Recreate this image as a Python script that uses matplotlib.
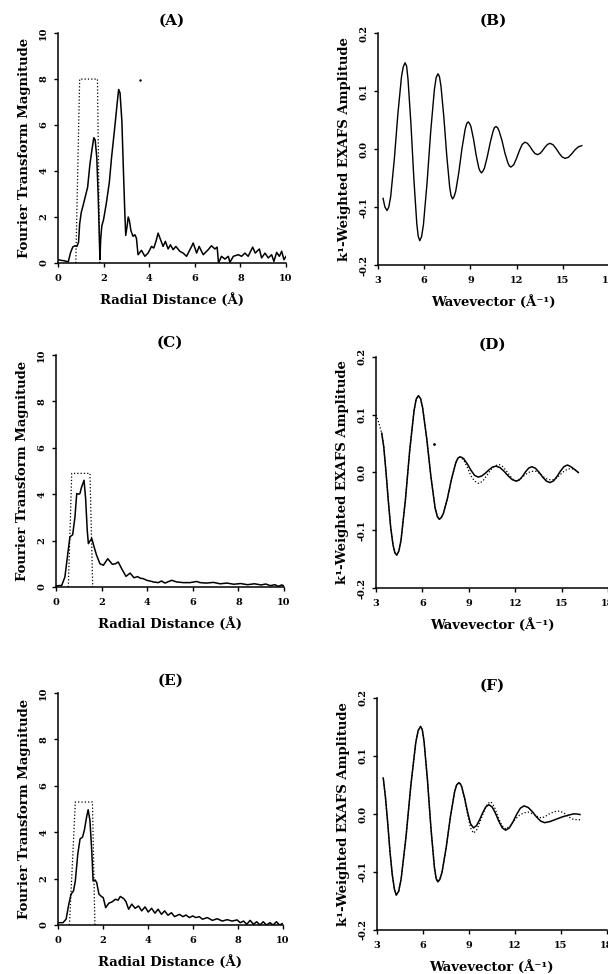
import matplotlib
matplotlib.use("Agg")
import matplotlib.pyplot as plt

plt.rcParams['font.family'] = ['DejaVu Serif']
plt.rcParams['font.weight'] = 'bold'
plt.rcParams['axes.unicode_minus'] = False

# ---- Fourier transform magnitudes (radial distance in Angstrom) ----
r_a = [0.0, 0.1, 0.25, 0.45, 0.55, 0.65, 0.75, 0.83, 0.9, 0.95, 1.02, 1.1, 1.2, 1.3, 1.4, 1.5, 1.57, 1.63,
       1.7, 1.76, 1.8, 1.84, 1.87, 1.92, 2.0, 2.12, 2.25, 2.35, 2.5, 2.6, 2.66, 2.72, 2.8, 2.87, 2.93, 2.97,
       3.03, 3.08, 3.13, 3.2, 3.29, 3.37, 3.44, 3.51, 3.66, 3.81, 3.95, 4.1, 4.2, 4.3, 4.39, 4.5, 4.61, 4.71,
       4.83, 4.93, 5.05, 5.17, 5.34, 5.49, 5.64, 5.75, 5.86, 5.93, 6.08, 6.19, 6.37, 6.59, 6.73, 6.88, 6.98,
       7.04, 7.17, 7.32, 7.47, 7.54, 7.69, 7.91, 8.05, 8.2, 8.34, 8.54, 8.65, 8.83, 8.93, 9.08, 9.22, 9.37,
       9.47, 9.59, 9.71, 9.81, 9.91, 10.0]
ft_a = [0.15, 0.12, 0.1, 0.05, 0.45, 0.7, 0.75, 0.72, 0.9, 1.7, 2.2, 2.5, 2.9, 3.3, 4.3, 5.0, 5.45, 5.35,
        4.6, 3.0, 1.6, 0.15, 1.0, 1.6, 1.9, 2.6, 3.5, 4.6, 6.0, 7.0, 7.55, 7.4, 6.2, 4.0, 2.2, 1.2,
        1.6, 2.0, 1.85, 1.4, 1.16, 1.23, 1.08, 0.36, 0.55, 0.29, 0.43, 0.72, 0.65, 0.95, 1.3, 1.01, 0.72, 0.94,
        0.61, 0.79, 0.58, 0.72, 0.51, 0.43, 0.29, 0.51, 0.72, 0.87, 0.43, 0.72, 0.36, 0.58, 0.75, 0.61, 0.69,
        0.0, 0.29, 0.17, 0.29, 0.03, 0.29, 0.36, 0.29, 0.43, 0.29, 0.69, 0.43, 0.61, 0.22, 0.43, 0.22, 0.36,
        0.07, 0.46, 0.29, 0.51, 0.14, 0.29]
win_a_x = [0.78, 0.95, 1.73, 1.83]
win_a_y = [0, 8.0, 8.0, 0]

r_c = [0.0, 0.25, 0.39, 0.5, 0.61, 0.66, 0.73, 0.83, 0.91, 1.0, 1.05, 1.12, 1.23, 1.3, 1.37, 1.42, 1.5, 1.57,
       1.67, 1.78, 1.93, 2.08, 2.27, 2.47, 2.6, 2.73, 2.88, 3.07, 3.25, 3.42, 3.58, 3.7, 3.83, 3.98, 4.12,
       4.27, 4.49, 4.63, 4.78, 5.07, 5.29, 5.58, 5.88, 6.17, 6.32, 6.6, 6.9, 7.2, 7.5, 7.8, 8.1, 8.4, 8.7,
       9.0, 9.2, 9.4, 9.6, 9.75, 9.9, 10.0]
ft_c = [0.05, 0.07, 0.43, 1.3, 2.16, 2.2, 2.25, 3.0, 4.03, 4.0, 4.03, 4.3, 4.6, 3.8, 2.45, 1.87, 2.0, 2.09,
        1.73, 1.37, 1.0, 0.94, 1.22, 0.98, 1.0, 1.08, 0.79, 0.46, 0.6, 0.4, 0.45, 0.38, 0.36, 0.29, 0.26,
        0.22, 0.19, 0.26, 0.17, 0.29, 0.22, 0.19, 0.19, 0.24, 0.19, 0.17, 0.2, 0.14, 0.17, 0.12, 0.15, 0.1, 0.14,
        0.09, 0.13, 0.06, 0.1, 0.03, 0.09, 0.05]
win_c_x = [0.54, 0.69, 1.49, 1.61]
win_c_y = [0, 4.9, 4.9, 0]

r_e = [0.0, 0.22, 0.36, 0.48, 0.58, 0.69, 0.77, 0.88, 0.98, 1.09, 1.17, 1.27, 1.34, 1.42, 1.5, 1.56, 1.65,
       1.72, 1.82, 1.93, 2.01, 2.12, 2.26, 2.41, 2.55, 2.67, 2.77, 2.92, 3.02, 3.14, 3.28, 3.43, 3.58, 3.72,
       3.87, 4.01, 4.16, 4.31, 4.45, 4.6, 4.74, 4.89, 5.04, 5.18, 5.4, 5.55, 5.69, 5.84, 5.99, 6.13, 6.28,
       6.42, 6.64, 6.86, 7.08, 7.3, 7.52, 7.74, 7.96, 8.1, 8.25, 8.39, 8.54, 8.69, 8.83, 8.98, 9.12, 9.27,
       9.42, 9.56, 9.71, 9.85, 9.97]
ft_e = [0.1, 0.1, 0.25, 0.9, 1.33, 1.47, 1.9, 3.06, 3.71, 3.79, 4.08, 4.65, 4.97, 4.5, 3.2, 1.9, 1.94,
        1.83, 1.33, 1.23, 1.18, 0.75, 0.94, 1.0, 1.11, 1.07, 1.23, 1.14, 1.01, 0.68, 0.9, 0.72, 0.82, 0.61,
        0.78, 0.56, 0.72, 0.51, 0.68, 0.46, 0.61, 0.42, 0.53, 0.36, 0.46, 0.36, 0.43, 0.32, 0.39, 0.32, 0.36,
        0.25, 0.32, 0.2, 0.27, 0.17, 0.23, 0.17, 0.22, 0.1, 0.17, 0.03, 0.2, 0.03, 0.14, 0.0, 0.14, 0.0,
        0.1, 0.0, 0.14, 0.0, 0.06]
win_e_x = [0.51, 0.77, 1.53, 1.64]
win_e_y = [0, 5.3, 5.3, 0]

# ---- k1-weighted EXAFS (wavevector in 1/Angstrom) ----
k_b = [3.33, 3.45, 3.59, 3.7, 3.824, 4.058, 4.292, 4.526, 4.64, 4.76, 4.86, 4.95, 5.14, 5.33, 5.52, 5.61,
       5.71, 5.83, 5.948, 6.186, 6.424, 6.662, 6.78, 6.9, 6.99, 7.088, 7.276, 7.464, 7.652, 7.74, 7.84, 7.94,
       8.044, 8.248, 8.452, 8.656, 8.76, 8.86, 8.95, 9.032, 9.204, 9.376, 9.548, 9.63, 9.72, 9.81, 9.908,
       10.096, 10.284, 10.472, 10.56, 10.66, 10.76, 10.854, 11.048, 11.242, 11.436, 11.53, 11.63, 11.72,
       11.812, 11.994, 12.176, 12.358, 12.54, 12.702, 12.864, 13.026, 13.188, 13.35, 13.514, 13.678,
       13.842, 14.006, 14.17, 14.366, 14.562, 14.758, 14.954, 15.15, 15.366, 15.582, 15.798, 16.014, 16.23]
chi_b = [-0.085, -0.1, -0.106, -0.1, -0.082, -0.018, 0.061, 0.125, 0.142, 0.149, 0.143, 0.12, 0.043, -0.052,
         -0.129, -0.15, -0.158, -0.151, -0.131, -0.058, 0.031, 0.103, 0.124, 0.13, 0.125, 0.109, 0.055,
         -0.011, -0.065, -0.08, -0.086, -0.082, -0.073, -0.04, 0.001, 0.034, 0.044, 0.047, 0.044, 0.039,
         0.017, -0.011, -0.033, -0.038, -0.041, -0.038, -0.033, -0.013, 0.011, 0.031, 0.037, 0.039, 0.037,
         0.032, 0.015, -0.007, -0.024, -0.029, -0.031, -0.029, -0.027, -0.016, -0.003, 0.008, 0.012, 0.01,
         0.0046, -0.0021, -0.0075, -0.0095, -0.0076, -0.0028, 0.0033, 0.0081, 0.01, 0.0075, 0.001, -0.007,
         -0.0135, -0.016, -0.014, -0.008, -0.001, 0.004, 0.006]

k_d = [3.37, 3.5, 3.65, 3.8, 3.95, 4.1, 4.22, 4.34, 4.48, 4.62, 4.9, 5.18, 5.46, 5.6, 5.74, 5.88, 6.01,
       6.28, 6.55, 6.82, 6.96, 7.09, 7.22, 7.358, 7.626, 7.894, 8.162, 8.3, 8.43, 8.55, 8.666, 8.902, 9.138,
       9.374, 9.61, 9.838, 10.066, 10.294, 10.522, 10.75, 11.016, 11.282, 11.548, 11.814, 12.08, 12.278,
       12.476, 12.674, 12.872, 13.07, 13.306, 13.542, 13.778, 14.014, 14.25, 14.476, 14.702, 14.928,
       15.154, 15.38, 15.6, 15.85, 16.08]
chi_d = [0.068, 0.045, 0.0, -0.05, -0.095, -0.125, -0.139, -0.143, -0.136, -0.117, -0.048, 0.038, 0.107,
         0.127, 0.133, 0.128, 0.113, 0.059, -0.007, -0.061, -0.076, -0.081, -0.078, -0.071, -0.044, -0.01,
         0.017, 0.025, 0.027, 0.026, 0.024, 0.015, 0.004, -0.005, -0.008, -0.006, -0.0014, 0.0044, 0.0092,
         0.011, 0.0085, 0.002, -0.006, -0.0125, -0.015, -0.0126, -0.0064, 0.0014, 0.0076, 0.01, 0.0074,
         0.0005, -0.008, -0.0149, -0.0175, -0.0146, -0.007, 0.0025, 0.0101, 0.013, 0.01, 0.005, 0.0]
# fit (dotted): leading part, then the tail where it departs from the data
k_d_fit_head = [3.0, 3.12, 3.26]
chi_d_fit_head = [0.1, 0.091, 0.079]
k_d_fit_tail = [8.666, 8.902, 9.138, 9.374, 9.65, 9.9, 10.15, 10.4, 10.65, 10.95, 11.2, 11.45, 11.7, 11.9,
                12.1, 12.35, 12.6, 12.85, 13.1, 13.35, 13.6, 13.85, 14.1, 14.4, 14.65, 14.9, 15.15, 15.4,
                15.65, 15.9, 16.08]
chi_d_fit_tail = [0.022, 0.009, -0.006, -0.015, -0.019, -0.015, -0.006, 0.004, 0.011, 0.014, 0.01, 0.002,
                  -0.007, -0.013, -0.015, -0.011, -0.005, 0.0, 0.002, 0.002, -0.002, -0.008, -0.012, -0.013,
                  -0.01, -0.004, 0.002, 0.006, 0.007, 0.004, 0.0]

k_f = [3.41, 3.55, 3.7, 3.85, 4.0, 4.14, 4.26, 4.42, 4.578, 4.896, 5.214, 5.532, 5.69, 5.85, 5.96, 6.074,
       6.298, 6.522, 6.746, 6.86, 6.97, 7.1, 7.244, 7.518, 7.792, 8.066, 8.2, 8.34, 8.44, 8.532, 8.724,
       8.916, 9.108, 9.3, 9.5, 9.7, 9.9, 10.1, 10.3, 10.52, 10.74, 10.96, 11.18, 11.4, 11.64, 11.88, 12.12,
       12.36, 12.6, 12.87, 13.14, 13.41, 13.68, 13.95, 14.3, 14.7, 15.1, 15.5, 15.8, 16.05, 16.25]
chi_f = [0.062, 0.03, -0.015, -0.065, -0.105, -0.13, -0.14, -0.133, -0.112, -0.0395, 0.05, 0.123, 0.144,
         0.151, 0.145, 0.125, 0.058, -0.024, -0.091, -0.111, -0.117, -0.113, -0.101, -0.058, -0.005, 0.038,
         0.05, 0.054, 0.052, 0.047, 0.027, 0.003, -0.017, -0.024, -0.02, -0.01, 0.002, 0.012, 0.016, 0.012,
         0.0008, -0.0128, -0.024, -0.028, -0.024, -0.0135, -0.0005, 0.01, 0.014, 0.0112, 0.004, -0.005,
         -0.0122, -0.015, -0.013, -0.009, -0.005, -0.002, 0.0, 0.0, -0.001]
k_f_fit_tail = [8.724, 8.916, 9.108, 9.3, 9.5, 9.75, 10.0, 10.22, 10.44, 10.65, 10.9, 11.15, 11.42, 11.7,
                12.0, 12.3, 12.6, 12.9, 13.2, 13.5, 13.75, 14.0, 14.3, 14.6, 14.9, 15.2, 15.5, 15.8, 16.05,
                16.25]
chi_f_fit_tail = [0.025, -0.001, -0.024, -0.033, -0.028, -0.012, 0.006, 0.018, 0.021, 0.013, -0.005, -0.02,
                  -0.026, -0.02, -0.01, -0.002, 0.002, 0.003, 0.0, -0.005, -0.007, -0.004, 0.001, 0.004,
                  0.005, 0.002, -0.005, -0.009, -0.01, -0.01]

r_ticks = [0, 2, 4, 6, 8, 10]
k_ticks = [3, 6, 9, 12, 15, 18]
chi_ticks = [-0.2, -0.1, 0.0, 0.1, 0.2]

fig = plt.figure(figsize=(6.08, 9.74), dpi=100)


def style(ax, title, xlabel, ylabel):
    for s in ['top', 'right']:
        ax.spines[s].set_visible(False)
    for s in ['left', 'bottom']:
        ax.spines[s].set_linewidth(1.1)
    ax.tick_params(direction='out', length=3, width=1, labelsize=7)
    ax.tick_params(axis='y', labelrotation=90, pad=4)
    ax.tick_params(axis='x', pad=5)
    for lab in ax.get_yticklabels():
        lab.set_va('center')
    ax.set_title(title, fontsize=11, fontweight='bold', pad=6)
    ax.set_xlabel(xlabel, fontsize=9.5, fontweight='bold', labelpad=7)
    ax.set_ylabel(ylabel, fontsize=9.5, fontweight='bold', labelpad=6)


def ft_panel(rect, r, ft, wx, wy, title):
    ax = fig.add_axes(rect)
    ax.plot(r, ft, color='black', lw=1.1)
    ax.plot(wx, wy, color='black', lw=0.9, ls=':')
    ax.set_xlim(0, 10)
    ax.set_ylim(0, 10)
    ax.set_xticks(r_ticks)
    ax.set_yticks(r_ticks)
    style(ax, title, 'Radial Distance (Å)', 'Fourier Transform Magnitude')
    return ax


def exafs_panel(rect, title):
    ax = fig.add_axes(rect)
    ax.set_xlim(3, 18)
    ax.set_ylim(-0.2, 0.2)
    ax.set_xticks(k_ticks)
    ax.set_yticks(chi_ticks)
    ax.set_yticklabels(['-0.2', '-0.1', '0.0', '0.1', '0.2'])
    style(ax, title, 'Wavevector (Å⁻¹)', 'k¹-Weighted EXAFS Amplitude')
    return ax


ax_a = ft_panel([0.0954, 0.730, 0.375, 0.236], r_a, ft_a, win_a_x, win_a_y, '(A)')
ax_a.plot([3.6], [7.96], 'k.', ms=1.5)
ax_c = ft_panel([0.0921, 0.3973, 0.375, 0.2382], r_c, ft_c, win_c_x, win_c_y, '(C)')
ax_e = ft_panel([0.0954, 0.0503, 0.370, 0.2382], r_e, ft_e, win_e_x, win_e_y, '(E)')

ax_b = exafs_panel([0.6217, 0.7279, 0.38, 0.238], '(B)')
ax_b.plot(k_b, chi_b, color='black', lw=1.0)

ax_d = exafs_panel([0.6184, 0.3963, 0.3816, 0.2372], '(D)')
ax_d.plot(k_d, chi_d, color='black', lw=1.1)
n_d = k_d.index(8.43) + 1
ax_d.plot(k_d_fit_head + k_d[:n_d] + k_d_fit_tail, chi_d_fit_head + chi_d[:n_d] + chi_d_fit_tail,
          color='black', lw=0.9, ls=':')
ax_d.plot([6.77], [0.05], 'k.', ms=2)

ax_f = exafs_panel([0.620, 0.0452, 0.378, 0.2382], '(F)')
ax_f.plot(k_f, chi_f, color='black', lw=1.1)
n_f = k_f.index(8.532) + 1
ax_f.plot(k_f[:n_f] + k_f_fit_tail, chi_f[:n_f] + chi_f_fit_tail, color='black', lw=0.9, ls=':')

fig.savefig('out.png', dpi=100)
